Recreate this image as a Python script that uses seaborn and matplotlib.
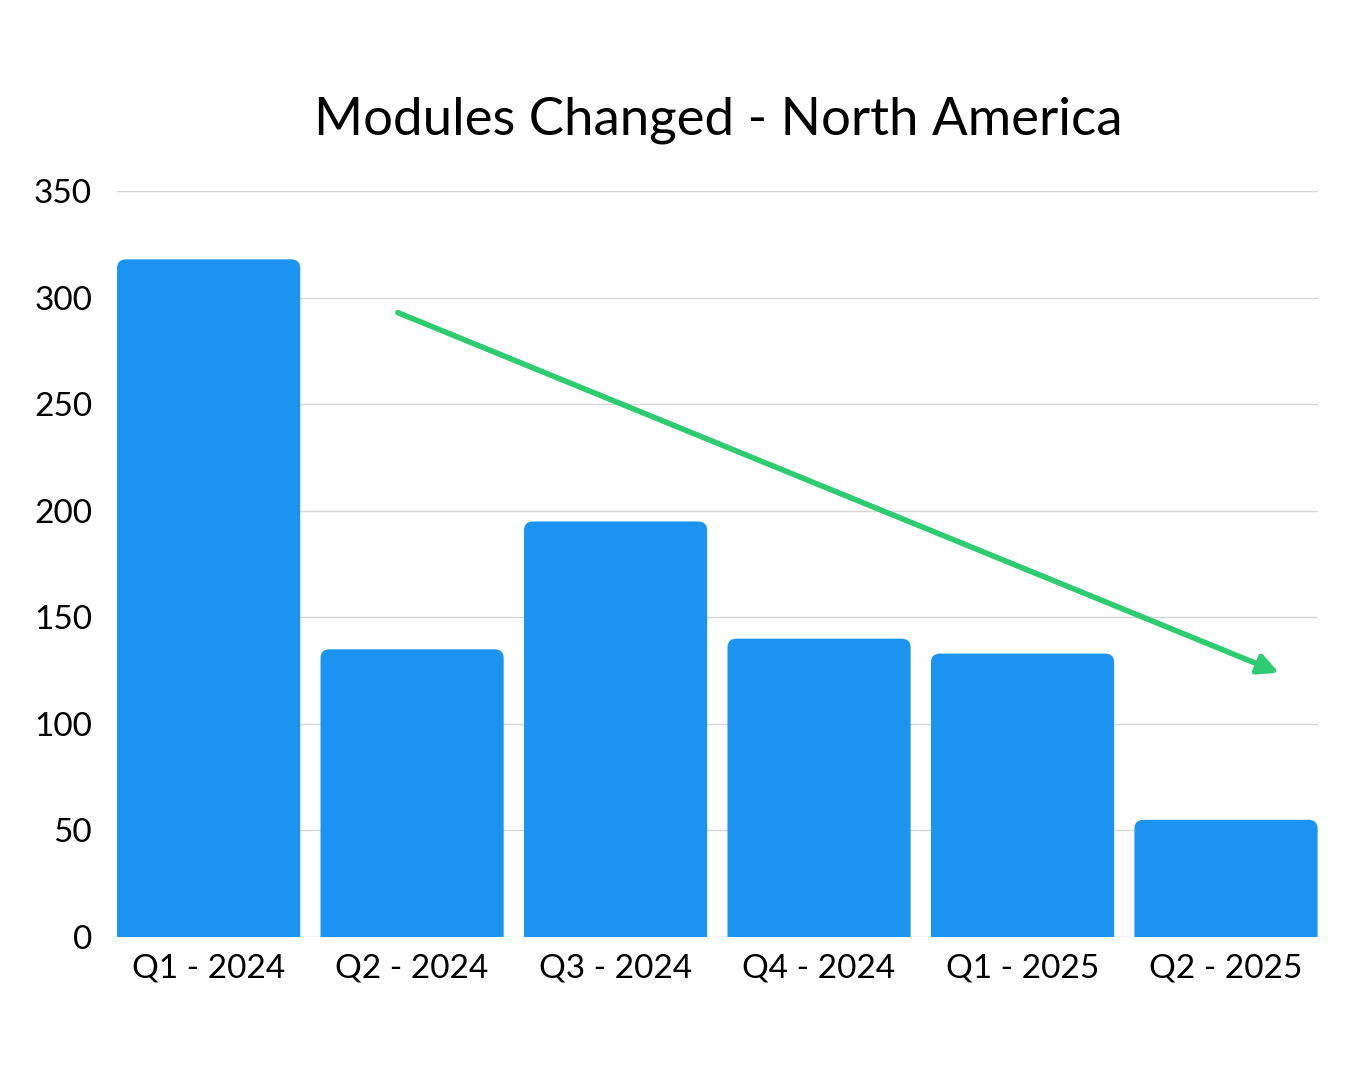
import matplotlib
matplotlib.use("Agg")
import matplotlib.pyplot as plt
import seaborn as sns
import pandas as pd
from matplotlib.patches import FancyBboxPatch

quarters = ["Q1 - 2024", "Q2 - 2024", "Q3 - 2024", "Q4 - 2024", "Q1 - 2025", "Q2 - 2025"]
modules_changed = [318, 135, 195, 140, 133, 55]
# trend arrow: (category position, value) start and end
trend_start = (0.93, 293)
trend_end = (5.26, 124)

df = pd.DataFrame({"quarter": quarters, "modules": modules_changed})

sns.set_theme(style="white")
plt.rcParams["font.family"] = ["Lato", "DejaVu Sans"]

fig = plt.figure(figsize=(13.5, 10.8), dpi=100)
ax = fig.add_axes([0.0867, 0.1324, 0.8893, 0.6906])

sns.barplot(data=df, x="quarter", y="modules", color="#1a94f0", width=0.9,
            saturation=1, ax=ax, zorder=2)

# swap the plain bars for ones with rounded tops
for p in list(ax.patches):
    x, w, h = p.get_x(), p.get_width(), p.get_height()
    rb = FancyBboxPatch((x, -20), w, h + 20,
                        boxstyle="round,pad=0,rounding_size=0.045",
                        mutation_aspect=90, facecolor="#1a94f0",
                        edgecolor="none", zorder=2)
    p.remove()
    ax.add_patch(rb)

ax.set_xlim(-0.45, 5.45)
ax.set_ylim(0, 350)
ax.set_yticks(range(0, 351, 50))
ax.yaxis.grid(True, color="#d6d6d6", linewidth=1)
ax.set_axisbelow(True)
for s in ax.spines.values():
    s.set_visible(False)
ax.set_xlabel("")
ax.set_ylabel("")
ax.tick_params(axis="both", length=0, labelsize=24, colors="black")
ax.tick_params(axis="y", pad=18)
ax.tick_params(axis="x", pad=12)

ax.annotate("", xy=trend_end, xytext=trend_start,
            arrowprops=dict(arrowstyle="-|>,head_length=1.0,head_width=0.5",
                            color="#2ecc71", lw=4, shrinkA=0, shrinkB=0),
            zorder=3)

fig.text(0.532, 0.889, "Modules Changed - North America", ha="center", va="center",
         fontsize=38, color="black")

fig.savefig("out.png", dpi=100)
